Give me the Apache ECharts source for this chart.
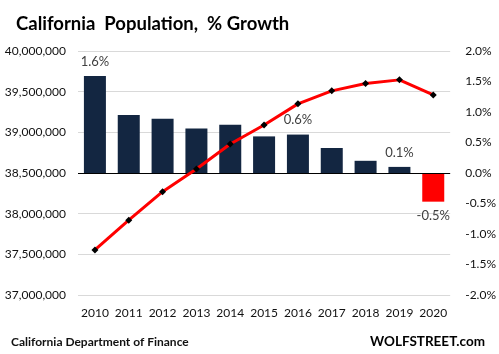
<!DOCTYPE html>
<html>
<head>
<meta charset="utf-8">
<script src="https://cdn.jsdelivr.net/npm/echarts@6/dist/echarts.min.js"></script>
<style>
  html, body { margin: 0; padding: 0; background: #fff; }
  #chart { width: 499px; height: 354px; }
</style>
</head>
<body>
<div id="chart"></div>
<script>
// data
const years = ['2010', '2011', '2012', '2013', '2014', '2015', '2016', '2017', '2018', '2019', '2020'];
const growthPct = [1.59, 0.95, 0.89, 0.73, 0.79, 0.6, 0.63, 0.41, 0.2, 0.1, -0.47];
const population = [37554000, 37920000, 38270000, 38550000, 38856000, 39090000, 39350000, 39510000, 39600000, 39645000, 39460000];
const labelText = ['1.6%', '', '', '', '', '', '0.6%', '', '', '0.1%', '-0.5%'];

const font = 'Lato, "Open Sans", sans-serif';
const myChart = echarts.init(document.getElementById('chart'));

const barData = growthPct.map((v, i) => ({
  value: v,
  itemStyle: { color: v < 0 ? '#ff0000' : '#132641' },
  label: {
    show: labelText[i] !== '',
    position: v < 0 ? 'bottom' : 'top',
    formatter: labelText[i]
  }
}));

const option = {
  animation: false,
  title: [
    {
      text: 'California  Population,  % Growth',
      left: 11, top: 10,
      textStyle: { fontFamily: font, fontSize: 18.5, fontWeight: 'bold', color: '#000' }
    },
    {
      text: 'California Department of Finance',
      left: 6, top: 331,
      textStyle: { fontFamily: font, fontSize: 12, fontWeight: 'bold', color: '#111' }
    },
    {
      text: 'WOLFSTREET.com',
      right: 9, top: 330,
      textStyle: { fontFamily: font, fontSize: 13.5, fontWeight: 'bold', color: '#000' }
    }
  ],
  grid: { left: 78, right: 46, top: 51, bottom: 59 },
  xAxis: {
    type: 'category',
    data: years,
    axisLine: { show: false },
    axisTick: { show: false },
    axisLabel: { fontFamily: font, fontSize: 12, color: '#111', margin: 12, interval: 0 }
  },
  yAxis: [
    {
      type: 'value',
      min: 37000000, max: 40000000, interval: 500000,
      axisLine: { show: false },
      axisTick: { show: false },
      splitLine: { lineStyle: { color: '#d9d9d9', width: 1 } },
      axisLabel: {
        fontFamily: font, fontSize: 12, color: '#111', margin: 12,
        formatter: v => v.toLocaleString('en-US')
      }
    },
    {
      type: 'value',
      min: -2, max: 2, interval: 0.5,
      axisLine: { show: false },
      axisTick: { show: false },
      splitLine: { show: false },
      axisLabel: {
        fontFamily: font, fontSize: 12, color: '#111', margin: 15,
        formatter: v => v.toFixed(1) + '%'
      }
    }
  ],
  series: [
    {
      type: 'bar',
      yAxisIndex: 1,
      barWidth: 22,
      data: barData,
      label: { fontFamily: font, fontSize: 13, color: '#404040', distance: 8 },
      markLine: {
        silent: true,
        symbol: 'none',
        label: { show: false },
        lineStyle: { color: '#000', width: 1, type: 'solid' },
        data: [{ yAxis: 0 }]
      }
    },
    {
      type: 'line',
      yAxisIndex: 0,
      data: population,
      z: 5,
      lineStyle: { color: '#ff0000', width: 3 },
      symbol: 'diamond',
      symbolSize: 7,
      itemStyle: { color: '#000' }
    }
  ]
};

myChart.setOption(option);
</script>
</body>
</html>
